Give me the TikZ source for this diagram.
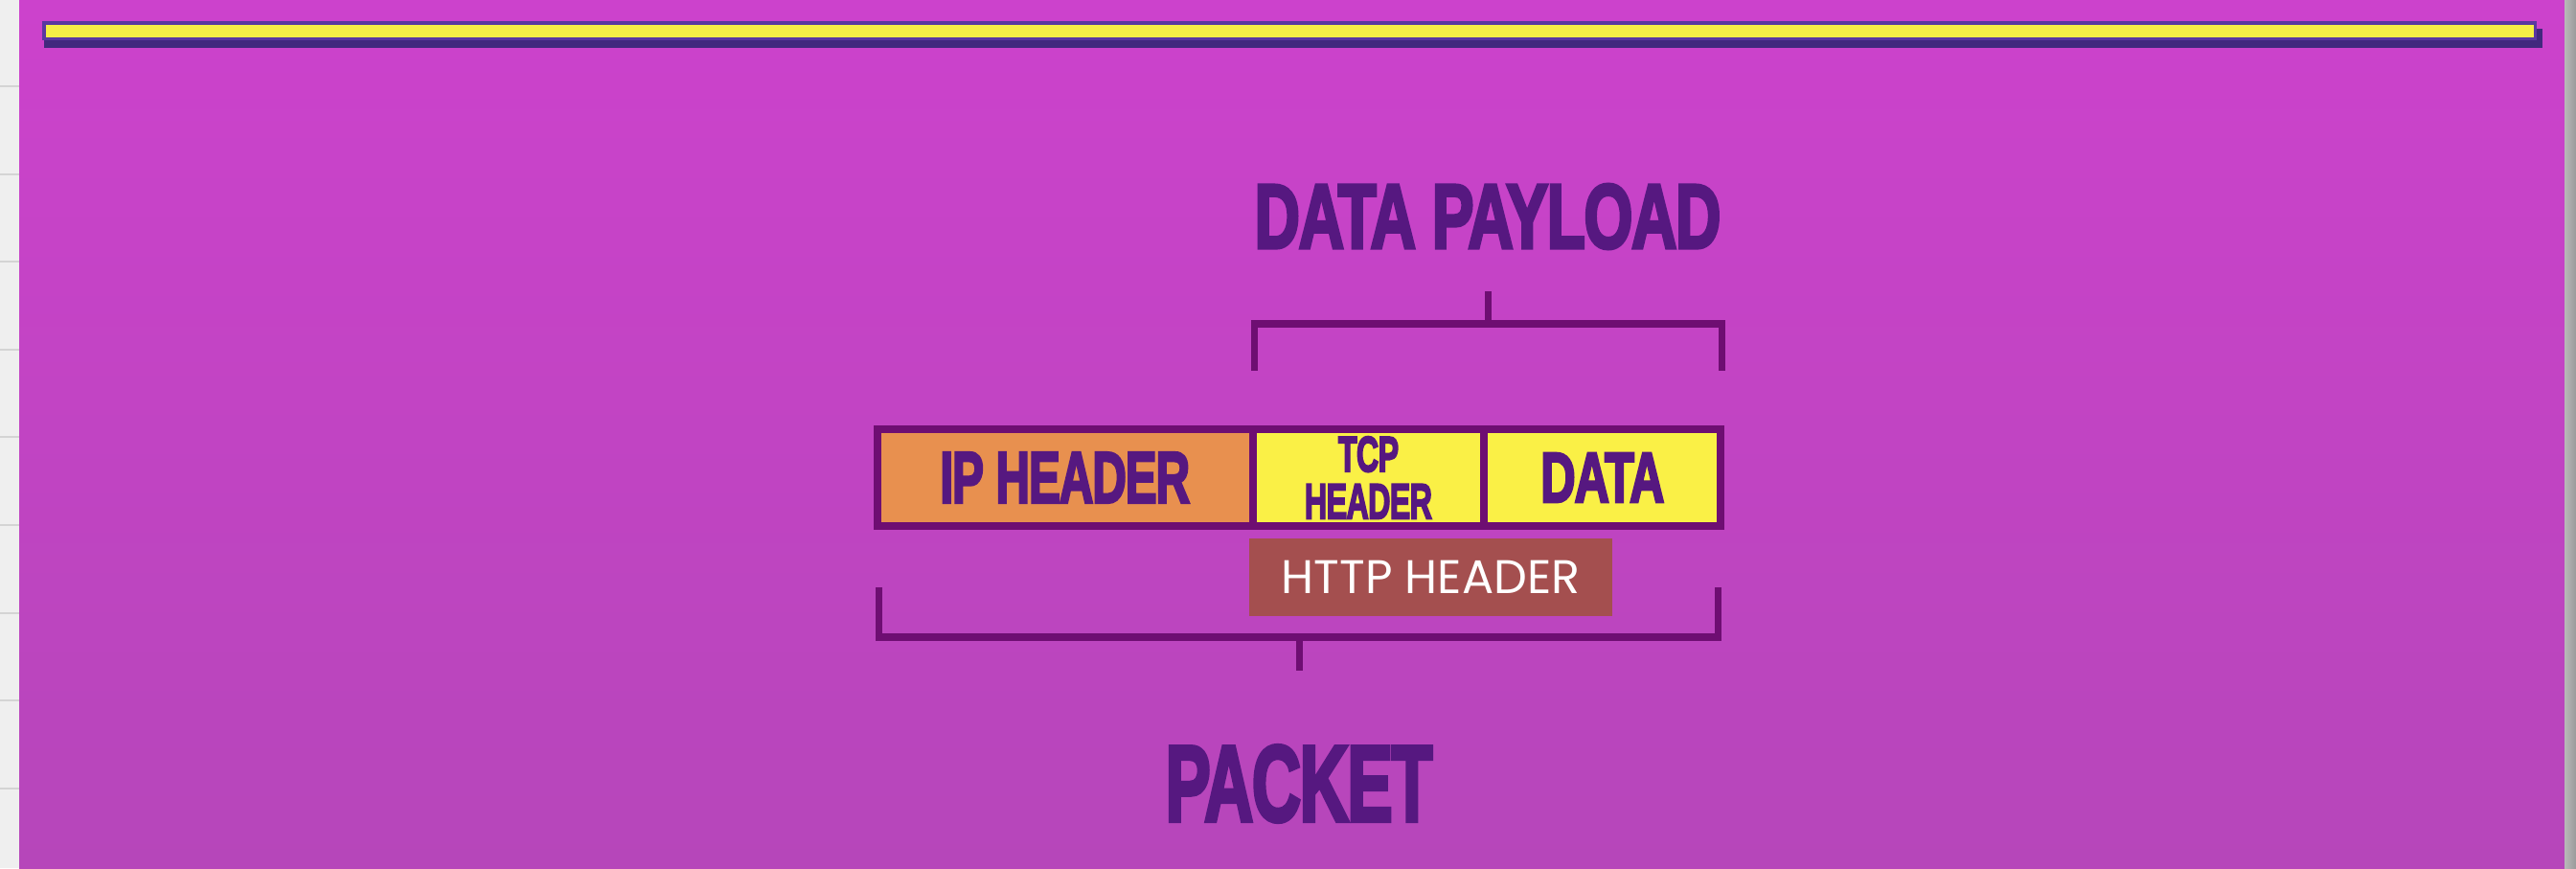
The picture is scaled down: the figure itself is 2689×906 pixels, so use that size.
\documentclass[tikz,border=0pt]{standalone}
\usepackage{fontspec}
\usepackage{graphicx}
\usepackage{tikz}
\usetikzlibrary{positioning, calc}
\newfontfamily\headfont[FakeBold=4, LetterSpace=-2]{Liberation Sans Bold}
\newfontfamily\httpfont{Poppins}
\newcommand{\squeeze}[2]{\scalebox{#1}[1]{#2}}
\definecolor{stripgray}{HTML}{EFEFEF}
\definecolor{gridgray}{HTML}{D4D4D4}
\definecolor{edgegray}{HTML}{9A9A9A}
\definecolor{bgtop}{HTML}{CC42CC}
\definecolor{bgmid}{HTML}{D04CD0}
\definecolor{bgbot}{HTML}{B646BA}
\definecolor{barshadow}{HTML}{42287E}
\definecolor{barpurple}{HTML}{5A38A0}
\definecolor{baryellow}{HTML}{F6EE46}
\definecolor{textpurple}{HTML}{561880}
\definecolor{edgepurple}{HTML}{6E0E72}
\definecolor{iporange}{HTML}{E8904F}
\definecolor{cellyellow}{HTML}{FAF046}
\definecolor{httpred}{HTML}{A44F4F}

\begin{document}
\begin{tikzpicture}[
    x=0.01cm, y=-0.01cm,
    cell/.style={rectangle, draw=edgepurple, line width=2.3pt, outer sep=0pt, inner sep=0pt, minimum height=1.01cm, text=textpurple, align=center},
    bigword/.style={text=textpurple, inner sep=0pt},
    bracketline/.style={draw=edgepurple, line width=2pt},
]
\useasboundingbox (0,0) rectangle (2689,906);

% Background
\fill[stripgray] (0,0) rectangle (20,906);
\foreach \gy in {90,182,273,365,456,548,640,731,823}
    \draw[gridgray, line width=0.4pt] (0,\gy) -- (20,\gy);
\shade[top color=bgtop, middle color=bgmid, bottom color=bgbot] (20,0) rectangle (2677,906);
\shade[left color=edgegray!70, right color=edgegray] (2677,0) rectangle (2689,906);

% Top bar
\fill[barshadow] (46,30) rectangle (2654,50);
\fill[barpurple] (44,22) rectangle (2648,42);
\fill[baryellow] (48,26) rectangle (2645,39);

% Packet
\node[cell, fill=iporange, minimum width=3.915cm, font=\headfont\fontsize{21.5}{24}\selectfont] (ipcell) at (1111.75,498.5) {\squeeze{0.65}{IP HEADER}};
\node[cell, fill=cellyellow, minimum width=2.415cm, right=0pt of ipcell, font=\headfont\fontsize{14.8}{14}\selectfont] (tcpcell) {\squeeze{0.62}{TCP}\\\squeeze{0.62}{HEADER}};
\node[cell, fill=cellyellow, minimum width=2.47cm, right=0pt of tcpcell, font=\headfont\fontsize{21}{24}\selectfont] (datacell) {\squeeze{0.68}{DATA}};

% HTTP
\node[fill=httpred, text=white, minimum width=3.79cm, minimum height=0.81cm, inner sep=0pt, font=\httpfont\fontsize{14}{16}\selectfont] (http) at (1493.5,602.5) {HTTP HEADER};

% Labels
\node[bigword, font=\headfont\fontsize{27}{30}\selectfont] (payload) at (1553,226) {\squeeze{0.69}{DATA PAYLOAD}};
\node[bigword, font=\headfont\fontsize{32}{36}\selectfont] (packet) at (1356,818) {\squeeze{0.63}{PACKET}};

% Brackets
\coordinate (payL) at (1309,387);
\coordinate (payR) at (1797,387);
\coordinate (payTop) at (1553,338);
\draw[bracketline] (payL) |- (payTop) -| (payR);
\draw[bracketline, shorten >=0.44cm] (payTop) -- (payload);

\coordinate (pakL) at (917.5,613);
\coordinate (pakR) at (1793,613);
\coordinate (pakBot) at (1356,665);
\draw[bracketline] (pakL) |- (pakBot) -| (pakR);
\draw[bracketline, shorten >=0.775cm] (pakBot) -- (packet);

\end{tikzpicture}
\end{document}
